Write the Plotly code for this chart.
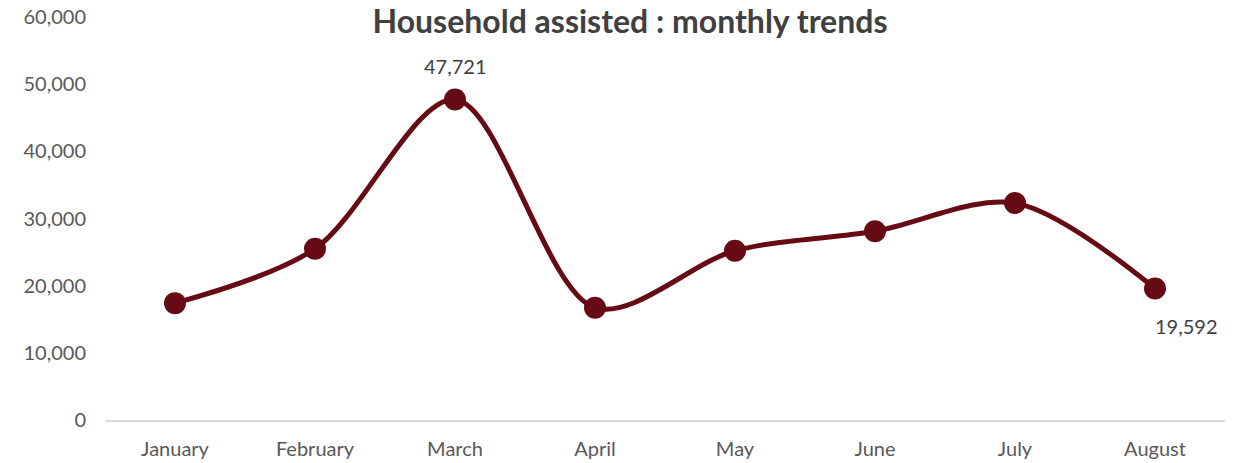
import plotly.graph_objects as go

months = ["January", "February", "March", "April", "May", "June", "July", "August"]
households = [17400, 25500, 47721, 16700, 25200, 28100, 32300, 19592]
y_ticks = [0, 10000, 20000, 30000, 40000, 50000, 60000]

color = "#660A14"
W, H = 1243, 463

fig = go.Figure()
fig.add_trace(go.Scatter(
    x=months, y=households, mode="lines+markers",
    line=dict(color=color, width=5, shape="spline", smoothing=0.9),
    marker=dict(color=color, size=22),
    hoverinfo="x+y",
))

fig.add_annotation(x=months[2], y=households[2], text=f"{households[2]:,}",
                   showarrow=False, yshift=33, font=dict(size=20, color="#404040"))
fig.add_annotation(x=months[7], y=households[7], text=f"{households[7]:,}",
                   showarrow=False, yshift=-38, xshift=31, font=dict(size=20, color="#404040"))

fig.update_layout(
    width=W, height=H,
    margin=dict(l=105, r=18, t=17, b=43),
    paper_bgcolor="white", plot_bgcolor="white",
    font=dict(family="Lato", color="#595959", size=20),
    title=dict(text="<b>Household assisted : monthly trends</b>",
               x=630 / W, xanchor="center", y=1 - 22 / H, yanchor="middle",
               yref="container",
               font=dict(family="Lato", size=32, color="#404040")),
    showlegend=False,
    xaxis=dict(showgrid=False, showline=True, linecolor="#D9D9D9", linewidth=2,
               ticks="", ticklabelstandoff=10, range=[-0.5, 7.5], automargin=False,
               ticklabeloverflow="allow",
               tickfont=dict(size=20, color="#595959")),
    yaxis=dict(showgrid=False, zeroline=False, showline=False, range=[0, 60000],
               tickvals=y_ticks, tickformat=",", ticklabelstandoff=18, automargin=False,
               ticklabeloverflow="allow",
               tickfont=dict(size=20, color="#595959")),
)

fig.write_html("out.html",
               config={"displayModeBar": False},
               post_script="document.body.style.margin='0';document.body.style.overflow='hidden';")
